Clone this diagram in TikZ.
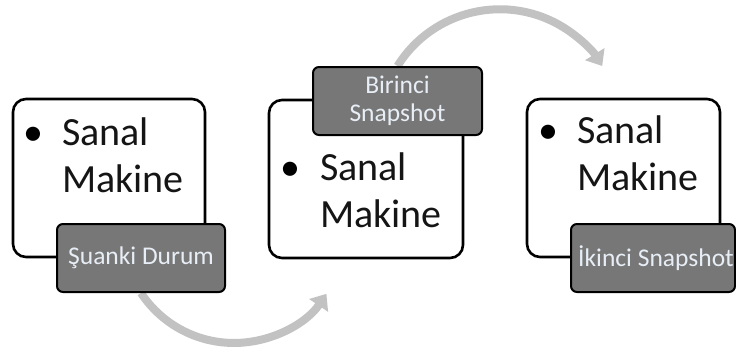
\documentclass[tikz,border=0pt]{standalone}
\usepackage{fontspec}
\setmainfont{Carlito}
\usetikzlibrary{arrows.meta,backgrounds}
\definecolor{flowgray}{HTML}{C2C2C2}
\definecolor{tagfill}{HTML}{777777}
\definecolor{tagtext}{HTML}{E8EEF6}
\definecolor{bodytext}{HTML}{151515}
\newcommand{\vmlines}{\begin{tabular}[t]{@{}l@{}}Sanal\\Makine\end{tabular}}
\tikzset{
  vmbox/.style={draw=black, line width=2.6pt, fill=white, rounded corners=13pt,
    minimum width=#1, minimum height=158pt, inner sep=0pt},
  tagbox/.style={draw=black, line width=2pt, fill=tagfill, rounded corners=6pt,
    minimum width=#1, minimum height=68pt, inner sep=0pt, text=tagtext,
    font=\fontsize{25.5}{28}\selectfont, align=center},
  vmtext/.style={anchor=base west, inner sep=0pt, text=bodytext,
    font=\fontsize{40}{47}\selectfont},
  vmbullet/.style={anchor=base, inner sep=0pt, text=black,
    font=\fontsize{40}{47}\selectfont},
  flow/.style={draw=flowgray, line width=8pt,
    -{Triangle[width=22pt,length=14pt]}}
}
\begin{document}
\begin{tikzpicture}[x=1pt,y=-1pt]
\useasboundingbox (0,0) rectangle (736,354);

% three virtual machine cards
\node[vmbox=192pt] (box1) at (109,178) {};
\node[vmbox=194pt] (box2) at (366,179) {};
\node[vmbox=193pt] (box3) at (623.5,178) {};

\node[vmbullet] (bu1) at (33,145) {•};
\node[vmtext] (t1) at (62,145) {\vmlines};
\node[vmbullet] (bu2) at (290,180) {•};
\node[vmtext] (t2) at (320,180) {\vmlines};
\node[vmbullet] (bu3) at (548,143) {•};
\node[vmtext] (t3) at (577,143) {\vmlines};

% state tags
\node[tagbox=168pt] (lab1) at (141,258) {Şuanki Durum};
\node[tagbox=169pt] (lab2) at (397.5,101) {Birinci\\Snapshot};
\node[tagbox=164pt] (lab3) at (653,258) {\makebox[0pt]{\hspace*{6pt}İkinci Snapshot}};

% curved transitions behind the cards
\begin{pgfonlayer}{background}
  \draw[flow] (lab1.south) arc[start angle=146.5, end angle=34, radius=111.5];
  \draw[flow] (lab2.north) arc[start angle=212, end angle=328, radius=120.7];
\end{pgfonlayer}
\end{tikzpicture}
\end{document}
